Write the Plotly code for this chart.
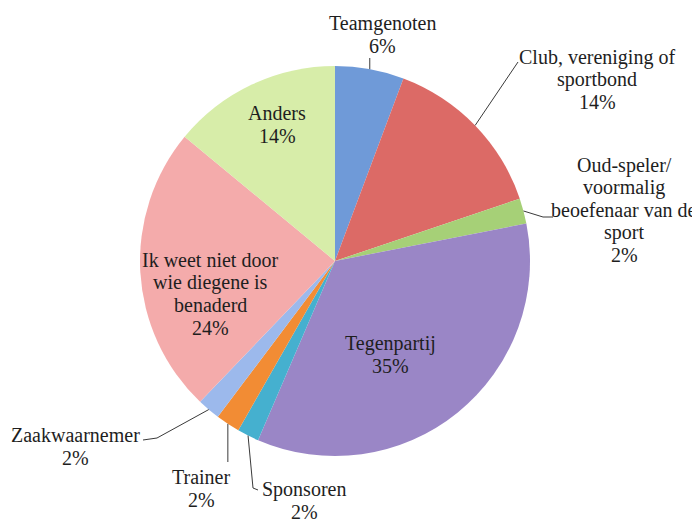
import math
import plotly.graph_objects as go

# ---- data ----
categories = ["Teamgenoten", "Club, vereniging of sportbond",
              "Oud-speler/ voormalig beoefenaar van de sport", "Tegenpartij",
              "Sponsoren", "Trainer", "Zaakwaarnemer",
              "Ik weet niet door wie diegene is benaderd", "Anders"]
values = [5.7, 14.1, 2.1, 34.5, 1.8, 2.0, 1.9, 23.8, 14.0]
pct_labels = ["6%", "14%", "2%", "35%", "2%", "2%", "2%", "24%", "14%"]
label_lines = [["Teamgenoten"], ["Club, vereniging of", "sportbond"],
               ["Oud-speler/", "voormalig", "beoefenaar van de", "sport"],
               ["Tegenpartij"], ["Sponsoren"], ["Trainer"], ["Zaakwaarnemer"],
               ["Ik weet niet door", "wie diegene is", "benaderd"], ["Anders"]]
colors = ["#6f9ad8", "#dc6a66", "#a6d077", "#9a86c6", "#45b0cf",
          "#f28c34", "#9cb9ec", "#f4abab", "#d7eda9"]

# page offset (browser body margin) and figure size
OFF = 8
W, H = 700 - OFF, 522 - OFF
CX, CY, R = 335, 261, 195
FONT = dict(family="Liberation Serif", size=20, color="#1e1e1e")
LINE = 22.6

def px(x):
    return (x - OFF) / W

def py(y):
    return 1 - (y - OFF) / H

fig = go.Figure(go.Pie(
    values=values, labels=categories, sort=False, direction="clockwise",
    rotation=0, marker=dict(colors=colors, line=dict(width=0)),
    textinfo="none", hoverinfo="label+percent", showlegend=False,
    domain=dict(x=[px(CX - R), px(CX + R)], y=[py(CY + R), py(CY - R)]),
))

# label placement: block centre x, first line y (screen px)
label_pos = [(382, 23), (597, 57), (624, 165), (390, 343), (304, 489),
             (201, 477), (75, 435), (210, 260), (277, 113)]
leaders = {0: [(None, 58)], 1: [(518, 62)], 2: [(543, 217), (553, 217)],
           4: [(253, 488), (258, 490)], 5: [(None, 462)],
           6: [(157, 438), (143, 440)]}

total = sum(values)
cum = 0
shapes = []
annotations = []
for i, v in enumerate(values):
    mid = (cum + v / 2) / total * 2 * math.pi
    cum += v
    ex = CX + R * math.sin(mid)
    ey = CY - R * math.cos(mid)
    if i in leaders:
        pts = [(ex, ey)] + [((ex if x is None else x), y) for x, y in leaders[i]]
        path = "M " + " L ".join(f"{px(x)},{py(y)}" for x, y in pts)
        shapes.append(dict(type="path", xref="paper", yref="paper", path=path,
                           line=dict(color="#3a3a3a", width=1)))
    lx, ly = label_pos[i]
    for k, line in enumerate(label_lines[i] + [pct_labels[i]]):
        annotations.append(dict(
            x=px(lx), y=py(ly + k * LINE), xref="paper", yref="paper",
            text=line, showarrow=False, xanchor="center", yanchor="middle",
            font=FONT,
        ))

fig.update_layout(
    width=W, height=H, margin=dict(l=0, r=0, t=0, b=0),
    paper_bgcolor="white", plot_bgcolor="white",
    shapes=shapes, annotations=annotations,
)
fig.write_html("out.html")
